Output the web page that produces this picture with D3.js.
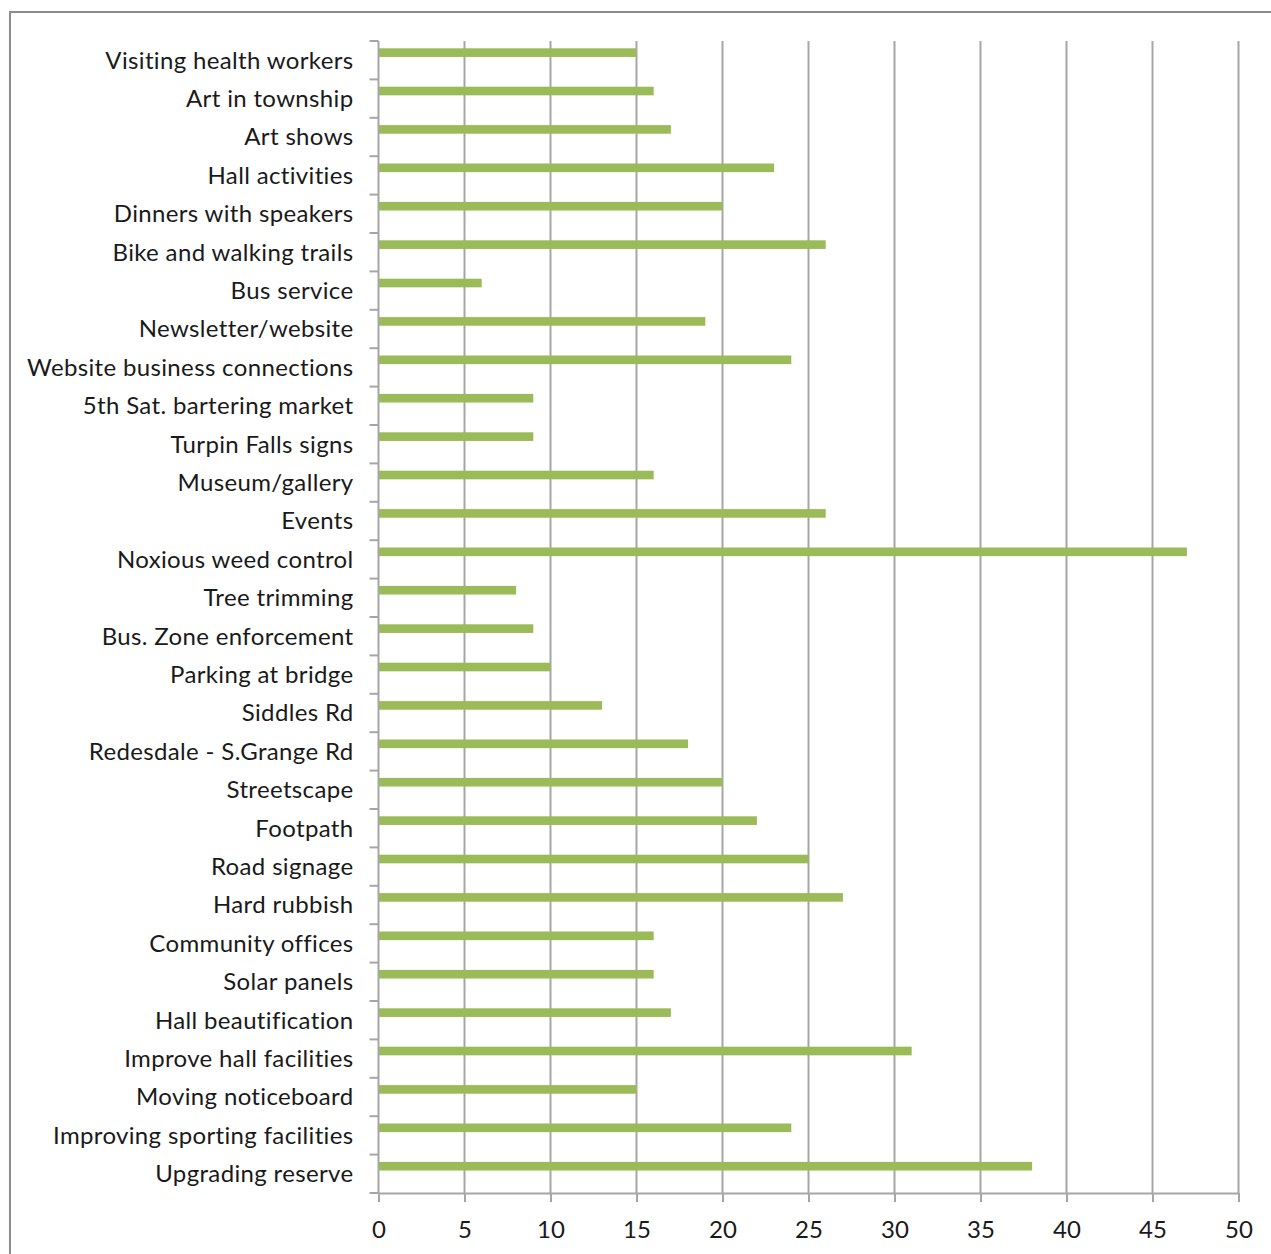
<!DOCTYPE html>
<html>
<head>
<meta charset="utf-8">
<script src="https://cdn.jsdelivr.net/npm/d3@7"></script>
<style>
  body { margin: 0; background: #fff; }
  text { font-family: Lato, "Open Sans", sans-serif; fill: #1a1a1a; }
</style>
</head>
<body>
<script>
// categories top to bottom, as they appear in the chart
let categories = [
    "Visiting health workers", "Art in township", "Art shows", "Hall activities",
    "Dinners with speakers", "Bike and walking trails", "Bus service", "Newsletter/website",
    "Website business connections", "5th Sat. bartering market", "Turpin Falls signs",
    "Museum/gallery", "Events", "Noxious weed control", "Tree trimming",
    "Bus. Zone enforcement", "Parking at bridge", "Siddles Rd", "Redesdale - S.Grange Rd",
    "Streetscape", "Footpath", "Road signage", "Hard rubbish", "Community offices",
    "Solar panels", "Hall beautification", "Improve hall facilities", "Moving noticeboard",
    "Improving sporting facilities", "Upgrading reserve"
];
let values = [
    15, 16, 17, 23,
    20, 26, 6, 19,
    24, 9, 9,
    16, 26, 47, 8,
    9, 10, 13, 18,
    20, 22, 25, 27, 16,
    16, 17, 31, 15,
    24, 38
];
let xTicks = [0, 5, 10, 15, 20, 25, 30, 35, 40, 45, 50];

let outerWidth = 1271;
let outerHeight = 1254;
let margin = { top: 41, left: 378.5, right: 32.5, bottom: 61 };
let width = outerWidth - margin.left - margin.right;
let height = outerHeight - margin.top - margin.bottom;

let barColor = "#9bbb59";
let gridColor = "#a6a6a6";

let svg = d3.select("body")
    .append("svg")
    .attr("width", outerWidth)
    .attr("height", outerHeight);

// chart frame
svg.append("rect")
    .attr("x", 10)
    .attr("y", 12)
    .attr("width", outerWidth + 20)
    .attr("height", outerHeight + 20)
    .attr("fill", "none")
    .attr("stroke", "#8c8c8c")
    .attr("stroke-width", 2);

let g = svg.append("g")
    .attr("transform", "translate(" + margin.left + "," + margin.top + ")");

let xScale = d3.scaleLinear()
    .domain([0, 50])
    .range([0, width]);

let yScale = d3.scaleBand()
    .domain(categories)
    .range([0, height]);

// vertical gridlines
g.append("g")
    .selectAll("line")
    .data(xTicks.slice(1))
    .enter()
    .append("line")
        .attr("x1", function(d) { return xScale(d); })
        .attr("x2", function(d) { return xScale(d); })
        .attr("y1", 0)
        .attr("y2", height)
        .attr("stroke", gridColor)
        .attr("stroke-width", 2);

// bars sit in the upper part of each band
let band = yScale.bandwidth();
g.append("g")
    .selectAll("rect")
    .data(values)
    .enter()
    .append("rect")
        .attr("x", 0)
        .attr("y", function(d, i) { return yScale(categories[i]) + band * 0.19; })
        .attr("width", function(d) { return xScale(d); })
        .attr("height", band * 0.225)
        .attr("fill", barColor);

// y axis: line + ticks at band boundaries
let yAxis = g.append("g");
yAxis.append("line")
    .attr("x1", 0).attr("x2", 0)
    .attr("y1", 0).attr("y2", height)
    .attr("stroke", gridColor)
    .attr("stroke-width", 2);
yAxis.selectAll(".ytick")
    .data(d3.range(categories.length + 1))
    .enter()
    .append("line")
        .attr("class", "ytick")
        .attr("x1", -9).attr("x2", 0)
        .attr("y1", function(i) { return i * band; })
        .attr("y2", function(i) { return i * band; })
        .attr("stroke", gridColor)
        .attr("stroke-width", 2);
yAxis.selectAll(".ylabel")
    .data(categories)
    .enter()
    .append("text")
        .attr("class", "ylabel")
        .attr("x", -25)
        .attr("y", function(d) { return yScale(d) + band / 2; })
        .attr("dy", "0.35em")
        .attr("text-anchor", "end")
        .style("font-size", "24px")
        .style("letter-spacing", "0.35px")
        .text(function(d) { return d; });

// x axis
let xAxis = d3.axisBottom(xScale)
    .tickValues(xTicks)
    .tickSize(9)
    .tickSizeOuter(0)
    .tickPadding(19);
let xg = g.append("g")
    .attr("transform", "translate(0," + height + ")")
    .call(xAxis);
xg.select(".domain").attr("stroke", gridColor).attr("stroke-width", 2);
xg.selectAll(".tick line").attr("stroke", gridColor).attr("stroke-width", 2);
xg.selectAll(".tick text")
    .style("font-size", "24px")
    .style("font-family", "Lato, 'Open Sans', sans-serif")
    .attr("fill", "#1a1a1a");
</script>
</body>
</html>
